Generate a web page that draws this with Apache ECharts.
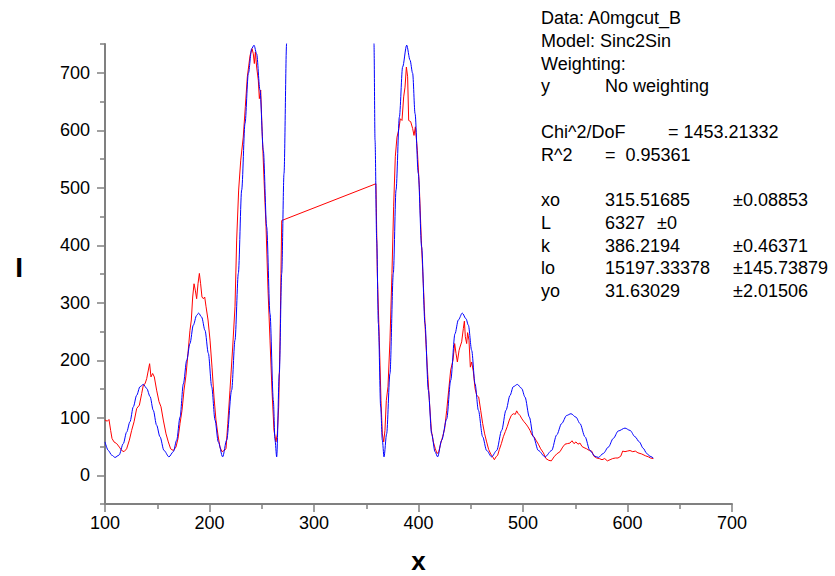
<!DOCTYPE html>
<html>
<head>
<meta charset="utf-8">
<script src="https://cdn.jsdelivr.net/npm/echarts@6.0.0/dist/echarts.min.js"></script>
<style>
html,body{margin:0;padding:0;background:#fff;}
#chart{width:835px;height:576px;}
</style>
</head>
<body>
<div id="chart"></div>
<script>
// ---- Tick labels ----
const xTicks = [100, 200, 300, 400, 500, 600, 700];
const yTicks = [0, 100, 200, 300, 400, 500, 600, 700];
const yMinorTicks = [-50, 50, 150, 250, 350, 450, 550, 650, 750];

// ---- Fitted model curve (blue), [x, I] ----
const modelCurve = [
  [100,58],[103.2,43],[106.4,35],[109.6,31],[113.4,35],[117.5,55],[120.7,75],[123.9,93],[127.1,119],[130.3,139],
  [133.5,154],[136.7,158],[139.9,151],[143.1,137],[146.2,113],[149.4,87],[152.6,67],[156.5,43],[161.2,32],[165.4,41],
  [168.6,61],[171.8,101],[175,159],[178.2,200],[181.3,229],[184.5,261],[187.7,278],[189.6,282],[192.5,275],[195.7,252],
  [198.9,212],[202.1,154],[205.3,96],[208.4,58],[212.6,32],[216.4,61],[221.2,148],[224.4,235],[227.6,351],[230.8,496],
  [234,612],[237.2,699],[240.4,742],[242.6,748],[245.1,733],[248.3,670],[251.5,565],[254.7,432],[257.9,281],[261.1,130],
  [262.7,61],[264.3,32],[266.8,177],[269.1,351],[271.3,525],[273.8,751],[277,1500],[290,8000],[315.5,15229],[341,8000],
  [355,1500],[357.4,751],[358.4,583],[360,409],[361.6,264],[363.8,119],[365.4,61],[367,32],[369.5,72],[372.7,177],
  [375.9,351],[378.5,496],[381.7,623],[384.8,710],[388.7,748],[391.9,722],[394.4,699],[396.7,629],[399.8,525],[403,397],
  [406.2,264],[409.4,148],[412.6,72],[415.8,41],[418.3,32],[422.2,61],[427,98],[430.8,165],[434.9,246],[438.1,270],
  [441.9,282],[445.5,272],[447.7,261],[450.9,217],[454.1,159],[457.3,113],[461.4,67],[465.2,43],[470,32],[474.8,43],
  [479.6,78],[483.7,113],[487.6,139],[490.7,154],[494.6,158],[498.7,151],[501.9,136],[506.1,101],[509.9,67],[514.7,43],
  [521.1,32],[527.4,43],[532.2,70],[537,90],[541.8,104],[545.9,107],[550.7,101],[554.5,90],[559.3,67],[564.1,43],
  [568.9,33],[572.1,31],[576.9,38],[581.7,49],[586.4,64],[591.2,77],[597.6,82],[602.4,78],[607.2,67],[611.3,58],
  [615,47],[618.4,38],[621.5,33],[624.7,30]
];

const measuredData = [
  [100,96],[100.6,96],[102.2,94],[103.8,97],[105.4,78],[106.7,64],[108.6,58],[111.2,55],[113.7,49],[116,43],
  [118.2,41],[120.7,46],[123.3,61],[125.5,78],[127.8,93],[130.3,116],[132.9,122],[135.1,142],[136.7,157],[138.3,159],
  [139.9,168],[141.5,183],[142.7,194],[144,171],[145.6,177],[147.2,171],[149.4,148],[151.7,128],[153.6,119],[155.8,96],
  [158.4,72],[160.6,58],[162.8,46],[165.4,43],[167.9,49],[169.9,64],[171.8,90],[173.7,113],[175.6,148],[177.5,174],
  [179.4,212],[181.3,252],[182.6,270],[183.9,310],[185.2,333],[186.4,322],[187.7,307],[189,333],[190.3,351],[191.5,333],
  [192.8,310],[194.1,307],[195.4,310],[196.7,293],[198.6,270],[200.5,235],[202.4,188],[204.3,136],[206.2,96],[208.1,70],
  [210,49],[212,41],[213.9,43],[215.8,46],[217.5,90],[219.6,148],[222.2,223],[224.4,293],[226,409],[227.9,496],
  [229.9,548],[232.3,588],[234.3,641],[236.2,693],[238.8,730],[240.7,742],[241.9,733],[242.9,716],[243.9,736],[245.1,710],
  [246.7,687],[247.7,655],[249,670],[250.2,606],[252.2,513],[254.1,432],[256,322],[257.9,235],[259.8,148],[261.7,78],
  [263.6,58],[264.9,72],[266.2,119],[267.5,235],[268.4,351],[269.1,443],[359.3,507],[360.6,351],[362.5,235],[364.1,130],
  [365.4,72],[366.7,58],[367.9,78],[369.2,130],[370.8,154],[372.7,235],[374.6,351],[376.2,467],[377.8,554],[379.4,588],
  [381,600],[382.6,620],[384.2,617],[385.8,658],[387.1,675],[388.4,710],[389.6,693],[390.6,617],[392.5,615],[394.4,603],
  [395.7,591],[397,606],[398.9,565],[400.8,501],[402.7,409],[404.6,333],[406.5,252],[408.4,188],[410.4,130],[412.3,78],
  [414.2,58],[416.1,46],[417.7,38],[419.3,40],[421.2,55],[423.1,67],[425,81],[427,113],[428.9,148],[430.8,183],
  [433,200],[434.6,229],[435.9,212],[437.2,197],[438.8,217],[439.7,223],[441.3,232],[442.9,255],[443.9,268],[444.8,241],
  [446.1,229],[447,248],[448.3,235],[449.6,188],[450.9,197],[452.5,180],[454.1,151],[455.7,139],[457.6,136],[459.5,113],
  [461.4,90],[463.3,72],[465.2,58],[467.1,45],[469.1,37],[471,32],[472.6,27],[474.2,32],[475.8,35],[477.4,45],
  [479.3,55],[481.2,67],[483.1,76],[485,85],[486.9,96],[488.8,104],[490.7,107],[492.7,106],[493.9,112],[495.5,107],
  [497.1,104],[499,98],[501,93],[502.9,89],[504.8,84],[506.7,78],[508.6,70],[510.5,67],[512.4,61],[514.7,54],
  [516.9,46],[519.5,39],[522,29],[524.6,26],[527.1,25],[529.7,32],[532.2,37],[535.4,41],[538,49],[540.2,54],
  [542.4,55],[545,56],[546.9,60],[548.8,55],[550.7,58],[552.6,54],[554.5,56],[556.5,50],[558.4,48],[560.9,46],
  [563.5,43],[565.7,42],[567.9,33],[570.5,30],[573,29],[575.6,27],[578.2,29],[580.7,25],[583.3,27],[585.8,29],
  [588.4,30],[590.9,30],[593.5,33],[595.4,42],[597.6,41],[599.8,42],[602.4,43],[605,41],[607.5,42],[610,39],
  [613.6,37],[617,34],[620,32],[622,30],[624.7,29]
];

// ---- Fit report text ----
const reportHeader = ['Data: A0mgcut_B', 'Model: Sinc2Sin', 'Weighting:'];
const weightingRow = ['y', 'No weighting'];
const statNames = ['Chi^2/DoF', 'R^2'];
const statValues = ['= 1453.21332', '=  0.95361'];
const paramNames = ['xo', 'L', 'k', 'lo', 'yo'];
const paramValues = ['315.51685', '6327', '386.2194', '15197.33378', '31.63029'];
const paramErrors = ['±0.08853', '±0', '±0.46371', '±145.73879', '±2.01506'];

// ---- layout ----
const FONT = '"Liberation Sans", Arial, sans-serif';
const AXIS_COLOR = '#808080';
const col0 = 541, col1 = 605, colChi = 668, colErr = 733, colErrShort = 657;
const row0 = 18, rowH = 22.75;

function txt(text, x, row) {
  return {
    type: 'text', x: x, y: row0 + row * rowH,
    style: { text: text, fill: '#000', font: '18px ' + FONT, textVerticalAlign: 'middle', verticalAlign: 'middle' }
  };
}
const graphics = [];
reportHeader.forEach((t, i) => graphics.push(txt(t, col0, i)));
graphics.push(txt(weightingRow[0], col0, 3));
graphics.push(txt(weightingRow[1], col1, 3));
statNames.forEach((t, i) => {
  graphics.push(txt(t, col0, 5 + i));
  graphics.push(txt(statValues[i], i === 0 ? colChi : col1, 5 + i));
});
paramNames.forEach((t, i) => {
  graphics.push(txt(t, col0, 8 + i));
  graphics.push(txt(paramValues[i], col1, 8 + i));
  graphics.push(txt(paramErrors[i], paramValues[i].length < 6 ? colErrShort : colErr, 8 + i));
});

const chart = echarts.init(document.getElementById('chart'), null, { renderer: 'svg' });
chart.setOption({
  animation: false,
  backgroundColor: '#fff',
  grid: { left: 105, right: 103, top: 44, bottom: 72, containLabel: false, outerBoundsMode: 'none' },
  xAxis: {
    type: 'value', min: xTicks[0], max: xTicks[xTicks.length - 1], interval: 100,
    name: 'x', nameLocation: 'middle', nameGap: 47,
    nameTextStyle: { fontFamily: FONT, fontSize: 26, fontWeight: 'bold', color: '#000', lineHeight: 20 },
    axisLine: { show: true, onZero: false, lineStyle: { color: AXIS_COLOR, width: 2 } },
    axisTick: { show: true, length: 8, lineStyle: { color: AXIS_COLOR, width: 1.5 } },
    minorTick: { show: true, splitNumber: 2, length: 5, lineStyle: { color: AXIS_COLOR, width: 1.5 } },
    axisLabel: { margin: 10, fontFamily: FONT, fontSize: 18, color: '#000' },
    splitLine: { show: false }
  },
  yAxis: [{
    type: 'value', min: -50, max: 750, position: 'left',
    name: 'I', nameLocation: 'middle', nameRotate: 0, nameGap: 82,
    nameTextStyle: { fontFamily: FONT, fontSize: 28, fontWeight: 'bold', color: '#000', verticalAlign: 'bottom', lineHeight: 14 },
    axisLine: { show: true, onZero: false, lineStyle: { color: AXIS_COLOR, width: 2 } },
    axisTick: { show: true, length: 8, customValues: yTicks, lineStyle: { color: AXIS_COLOR, width: 1.5 } },
    axisLabel: { margin: 15, customValues: yTicks, fontFamily: FONT, fontSize: 18, color: '#000' },
    splitLine: { show: false }
  }, {
    type: 'value', min: -50, max: 750, position: 'left',
    axisLine: { show: false },
    axisTick: { show: true, length: 5, customValues: yMinorTicks, lineStyle: { color: AXIS_COLOR, width: 1.5 } },
    axisLabel: { show: false },
    splitLine: { show: false }
  }],
  series: [{
    name: 'A0mgcut_B', type: 'line', data: measuredData, yAxisIndex: 0,
    showSymbol: false, symbol: 'none', clip: true,
    lineStyle: { color: '#ff0000', width: 1 }, itemStyle: { color: '#ff0000' }, z: 2
  }, {
    name: 'Sinc2Sin fit', type: 'line', data: modelCurve, yAxisIndex: 0,
    showSymbol: false, symbol: 'none', clip: true, smooth: 0.3, smoothMonotone: 'x',
    lineStyle: { color: '#0000ff', width: 1 }, itemStyle: { color: '#0000ff' }, z: 3
  }],
  graphic: graphics
});
</script>
</body>
</html>
